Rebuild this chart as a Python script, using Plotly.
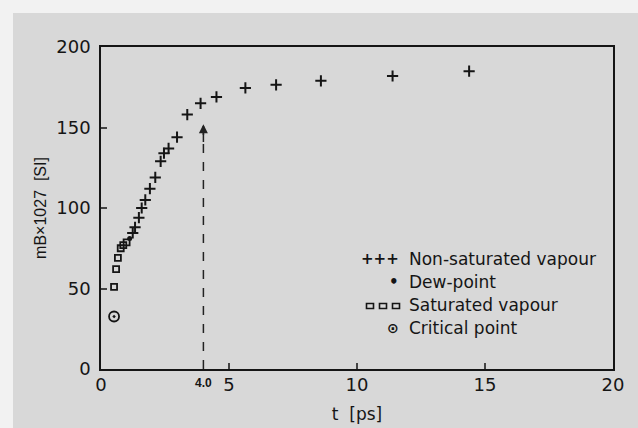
import plotly.graph_objects as go

# Non-saturated vapour (crosses)
t_nonsat = [1.24, 1.33, 1.48, 1.59, 1.73, 1.91, 2.12, 2.33, 2.46, 2.64, 2.97, 3.37, 3.89, 4.51, 5.64, 6.84, 8.59, 11.39, 14.38]
m_nonsat = [84.5, 88, 94, 100, 105, 112, 119, 129, 134, 137, 144, 158, 165, 169, 174.6, 176.5, 179, 182, 185]
# Dew-point
t_dew = [1.12]
m_dew = [81]
# Saturated vapour (squares)
t_sat = [0.51, 0.59, 0.66, 0.77, 0.87, 1.0]
m_sat = [51, 62, 69, 75, 77, 78.7]
# Critical point
t_crit = [0.51]
m_crit = [32.6]
# Marker line at t = 4.0
t_mark = [4.0, 4.0]
m_mark = [0, 152]

x_ticks = [0, 5, 10, 15, 20]
y_ticks = [0, 50, 100, 150, 200]

FONT = "DejaVu Sans, Arial, sans-serif"
FONT2 = "Liberation Sans, Arial, sans-serif"
BG = "#d8d8d8"
INK = "#151515"

# plot area in pixels (for legend placement)
L, R, T, B = 101, 613, 47, 369
def px(x):
    return (x - L) / (R - L)
def py(y):
    return (B - y) / (B - T)

fig = go.Figure()
fig.add_trace(go.Scatter(x=t_nonsat, y=m_nonsat, mode="markers",
                         marker=dict(symbol="cross-thin", size=8, color=INK, line=dict(width=2, color=INK))))
fig.add_trace(go.Scatter(x=t_sat, y=m_sat, mode="markers",
                         marker=dict(symbol="square-open", size=6, color=INK, line=dict(width=1.8, color=INK))))
fig.add_trace(go.Scatter(x=t_dew, y=m_dew, mode="markers",
                         marker=dict(symbol="circle", size=5, color=INK)))
fig.add_trace(go.Scatter(x=t_crit, y=m_crit, mode="markers",
                         marker=dict(symbol="circle-open-dot", size=10, color=INK, line=dict(width=1.8, color=INK))))
fig.add_trace(go.Scatter(x=t_mark, y=m_mark, mode="lines",
                         line=dict(color="#222", width=1.5, dash="dash")))
fig.add_annotation(x=t_mark[1], y=m_mark[1], ax=t_mark[1], ay=m_mark[1] - 12,
                   xref="x", yref="y", axref="x", ayref="y", text="",
                   showarrow=True, arrowhead=2, arrowsize=1.2, arrowwidth=1.5, arrowcolor="#222")
fig.add_annotation(x=4.0, y=0, xref="x", yref="y", text="<b>4.0</b>", showarrow=False,
                   yanchor="middle", yshift=-14, font=dict(family=FONT2, size=12, color=INK))

# Legend
leg_y = [259, 282, 305, 328]
leg_sym = ["+++", "•", "", "⊙"]
leg_sym_size = [15, 15, 11, 14]
leg_txt = ["Non-saturated vapour", "Dew-point", "Saturated vapour", "Critical point"]
for yy, s, ss, txt in zip(leg_y, leg_sym, leg_sym_size, leg_txt):
    if s:
        fig.add_annotation(x=px(401), y=py(yy), xref="paper", yref="paper", text="<b>" + s + "</b>",
                           showarrow=False, xanchor="right", yanchor="middle",
                           font=dict(family=FONT, size=ss, color=INK))
    fig.add_annotation(x=px(407), y=py(yy), xref="paper", yref="paper", text=txt,
                       showarrow=False, xanchor="left", yanchor="middle",
                       font=dict(family=FONT, size=17, color=INK))
for cx in [370, 383, 396]:
    fig.add_shape(type="rect", xref="paper", yref="paper",
                  x0=px(cx - 3.5), x1=px(cx + 3.5), y0=py(leg_y[2] + 3.5), y1=py(leg_y[2] - 1.5),
                  line=dict(color=INK, width=1.6), fillcolor="rgba(0,0,0,0)")

fig.add_shape(type="rect", xref="paper", yref="paper", x0=px(13), x1=px(650), y0=py(440), y1=py(13),
              fillcolor=BG, line=dict(width=0), layer="below")

fig.update_layout(
    width=638, height=428,
    margin=dict(l=L, r=638 - R, t=T, b=428 - B),
    paper_bgcolor="#f2f2f2", plot_bgcolor=BG,
    showlegend=False,
    font=dict(family=FONT, color=INK),
    xaxis=dict(range=[0, 20], tickvals=x_ticks, ticks="inside", ticklen=6, tickwidth=1.5,
               showline=True, linecolor=INK, linewidth=1.5, mirror=True, showgrid=False,
               zeroline=False, tickfont=dict(size=18), ticklabelstandoff=-1, automargin=False,
               title=dict(text="t  [ps]", font=dict(size=17), standoff=14)),
    yaxis=dict(range=[0, 200], tickvals=y_ticks, ticks="inside", ticklen=6, tickwidth=1.5,
               showline=True, linecolor=INK, linewidth=1.5, mirror=True, showgrid=False,
               zeroline=False, tickfont=dict(size=18), ticklabelstandoff=5, automargin=False,
               title=dict(text="mB×1027  [SI]", font=dict(family=FONT2, size=16), standoff=6)),
)
fig.write_html("out.html")
